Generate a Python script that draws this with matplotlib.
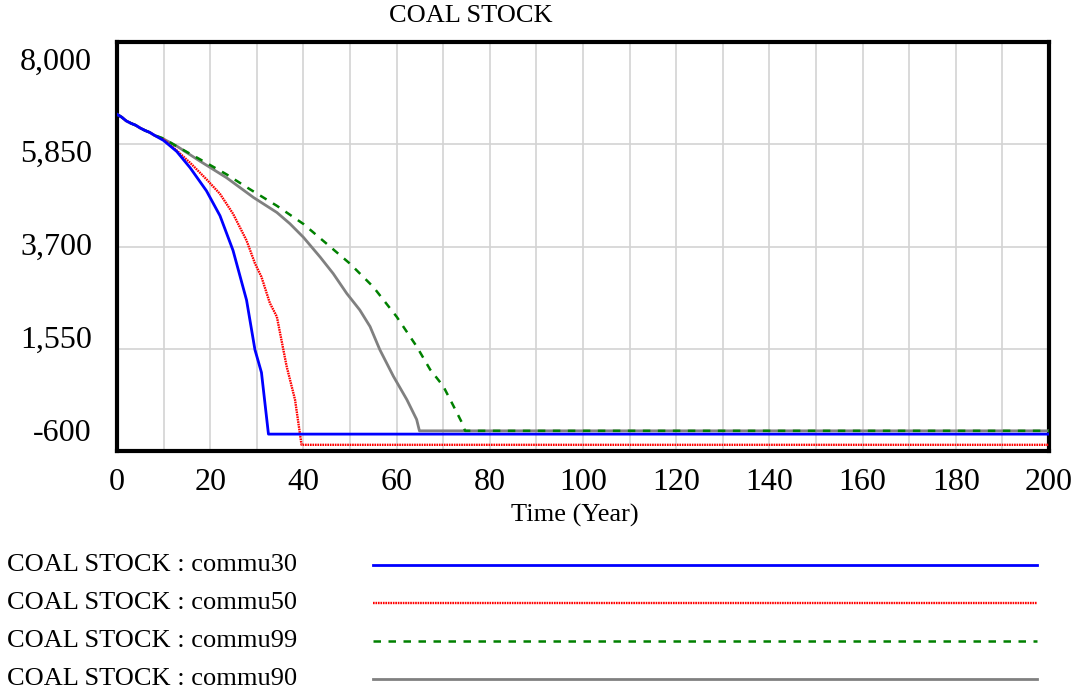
import matplotlib
matplotlib.use("Agg")
import matplotlib.pyplot as plt
import matplotlib.transforms as mtransforms

plt.rcParams['font.family'] = ['Liberation Serif', 'DejaVu Serif']

title = "COAL STOCK"
xlabel = "Time (Year)"
yticks = [-600, 1550, 3700, 5850, 8000]
ytick_labels = ["-600", "1,550", "3,700", "5,850", "8,000"]
xticks = list(range(0, 201, 20))

common_t = [0, 1, 2, 3, 4, 5, 6, 7, 8]
common_v = [6480, 6420, 6340, 6290, 6250, 6190, 6140, 6100, 6040]

t30 = common_t + [10, 12.8, 15.7, 19.2, 22.1, 24.9, 27.8, 29.6, 31, 32.5, 200]
v30 = common_v + [5930, 5700, 5355, 4870, 4347, 3617, 2573, 1530, 1050, -245, -245]

t50 = common_t + [10, 12.8, 15.7, 19.2, 22.1, 24.9, 27.8, 29.6, 31, 32.8, 34.3, 36.4, 38.2, 39.6, 200]
v50 = common_v + [5950, 5720, 5460, 5113, 4806, 4389, 3826, 3346, 3060, 2510, 2225, 1181, 480, -470, -470]

t90 = common_t + [10, 13, 17.8, 23.5, 29.3, 34.3, 37.1, 40, 43.6, 46.4, 49.3, 52.1, 54.3, 56.4, 59.3, 62.2, 64.3, 64.9, 200]
v90 = common_v + [5960, 5800, 5495, 5147, 4730, 4416, 4180, 3894, 3477, 3130, 2713, 2365, 2017, 1530, 973, 480, 63, -176, -176]

t99 = common_t + [10, 12.8, 18.5, 23.5, 28.5, 34.3, 40, 45, 50, 55, 60, 64.3, 67.2, 70, 72.2, 74, 74.7, 200]
v99 = common_v + [5970, 5808, 5495, 5217, 4905, 4556, 4174, 3757, 3339, 2850, 2225, 1599, 1112, 765, 347, 0, -176, -176]

series = [
    ("COAL STOCK : commu30", t30, v30, dict(color="#0000ff", lw=2.0, ls="-")),
    ("COAL STOCK : commu50", t50, v50, dict(color="#ff0000", lw=1.7, ls=(0, (0.7, 0.35)))),
    ("COAL STOCK : commu99", t99, v99, dict(color="#008000", lw=1.8, ls=(0, (3, 3)))),
    ("COAL STOCK : commu90", t90, v90, dict(color="#808080", lw=2.0, ls="-")),
]
zorders = [6, 4, 5, 3]

fig = plt.figure(figsize=(10.78, 6.92), dpi=100)
ax = fig.add_axes([117/1078, 1-451/692, (1049-117)/1078, (451-42)/692])

for (name, t, v, st), z in zip(series, zorders):
    ax.plot(t, v, zorder=z, **st)

ymin, ymax = -600, 8000
ax.set_xlim(0, 200)
ax.set_ylim(ymin, ymax)
ax.set_xticks(xticks)
ax.set_xticks(list(range(0, 201, 10)), minor=True)
ax.set_yticks(yticks)
ax.set_yticklabels([])
ax.grid(True, which="both", axis="x", color="#d3d3d3", lw=1.2)
ax.grid(True, which="major", axis="y", color="#d3d3d3", lw=1.2)
ax.tick_params(which="both", length=0, labelsize=23)
ax.tick_params(axis="x", pad=12)
for s in ax.spines.values():
    s.set_linewidth(3)
    s.set_color("black")

# Vensim-style y labels: spread slightly inside the axis range
trans = mtransforms.blended_transform_factory(ax.transAxes, ax.transAxes)
top_f, bot_f = 0.951, 0.044
for val, lab in zip(yticks, ytick_labels):
    f = bot_f + (val - ymin) / (ymax - ymin) * (top_f - bot_f)
    ax.text(-25/932, f, lab, transform=trans, ha="right", va="center", fontsize=23)

fig.text(471/1078, 1-16/692, title, ha="center", va="center", fontsize=19)
fig.text(575/1078, 1-515/692, xlabel, ha="center", va="center", fontsize=19)

lax = fig.add_axes([0, 0, 1, 1], facecolor="none")
lax.set_xlim(0, 1078)
lax.set_ylim(692, 0)
lax.axis("off")
ys = [565, 603, 641, 679]
for (name, t, v, st), y in zip(series, ys):
    lax.text(7, y, name, ha="left", va="center", fontsize=19)
    lax.plot([373, 1037], [y, y], **st)

fig.savefig("out.png", dpi=100)
